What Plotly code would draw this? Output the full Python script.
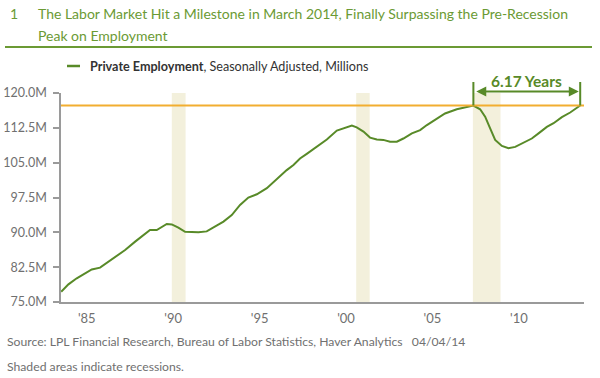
import plotly.graph_objects as go

# ---- data ----
years = [1984.10, 1984.52, 1985.00, 1985.38, 1985.87, 1986.35, 1986.83, 1987.32, 1987.80,
         1988.38, 1988.86, 1989.24, 1989.63, 1990.21, 1990.50, 1990.88, 1991.27, 1991.56,
         1992.04, 1992.52, 1993.00, 1993.49, 1993.97, 1994.45, 1994.93, 1995.42, 1996.00,
         1996.58, 1997.15, 1997.54, 1997.92, 1998.31, 1998.89, 1999.47, 2000.05, 2000.43,
         2000.92, 2001.20, 2001.59, 2001.97, 2002.36, 2002.74, 2003.13, 2003.52, 2003.90,
         2004.39, 2004.87, 2005.26, 2005.83, 2006.31, 2006.99, 2007.47, 2007.95, 2008.34,
         2008.63, 2008.92, 2009.21, 2009.60, 2009.98, 2010.37, 2010.85, 2011.33, 2011.72,
         2012.20, 2012.59, 2013.07, 2013.55, 2014.03, 2014.13]
employment = [77.2, 78.8, 80.1, 81.0, 82.0, 82.4, 83.6, 84.9, 86.2,
              88.0, 89.4, 90.5, 90.5, 91.8, 91.7, 91.0, 90.1, 90.1,
              90.0, 90.2, 91.2, 92.3, 93.7, 95.9, 97.5, 98.2, 99.5,
              101.5, 103.4, 104.5, 105.9, 106.9, 108.4, 110.0, 111.9, 112.4,
              113.0, 112.6, 111.7, 110.4, 110.0, 109.9, 109.5, 109.5, 110.2,
              111.3, 112.0, 113.1, 114.5, 115.6, 116.5, 116.9, 117.3, 116.5,
              114.9, 112.4, 109.9, 108.6, 108.1, 108.4, 109.3, 110.2, 111.3,
              112.7, 113.5, 114.8, 115.8, 117.2, 117.3]
pre_recession_peak = 117.3
peak_date = 2007.95
recovery_date = 2014.13
gap_label = "6.17 Years"

rec_start = [1990.50, 2001.17, 2007.92]
rec_end = [1991.30, 2001.95, 2009.52]

ytick_vals = [75.0, 82.5, 90.0, 97.5, 105.0, 112.5, 120.0]
ytick_text = [f"{v:.1f}M" for v in ytick_vals]
xtick_years = [1985, 1990, 1995, 2000, 2005, 2010]
xtick_text = ["'85", "'90", "'95", "'00", "'05", "'10"]

title_line1 = "The Labor Market Hit a Milestone in March 2014, Finally Surpassing the Pre-Recession"
title_line2 = "Peak on Employment"

# ---- styling ----
FONT = "Lato, Liberation Sans, sans-serif"
GREEN_LINE = "#588a28"
GREEN_TITLE = "#6b9a34"
ORANGE = "#f2ae30"
BAND = "#f3f0dc"
GRAY = "#707070"
AXIS = "#9a9a9a"

W, H = 600, 378
L, R, T, B = 61, 16, 93, 76
pw, ph = W - L - R, H - T - B
X0, X1 = 1984.09, 2014.35


def px(xp):
    return (xp - L) / pw


def py(yp):
    return (H - B - yp) / ph


fig = go.Figure()
fig.add_trace(go.Scatter(x=years, y=employment, mode="lines",
                         line=dict(color=GREEN_LINE, width=2),
                         name="Private Employment", showlegend=False, hoverinfo="skip"))

shapes = []
for s, e in zip(rec_start, rec_end):
    shapes.append(dict(type="rect", xref="x", yref="paper", x0=s, x1=e, y0=0, y1=1,
                       fillcolor=BAND, line=dict(width=0), layer="below"))
shapes.append(dict(type="line", xref="paper", yref="y", x0=0, x1=1,
                   y0=pre_recession_peak, y1=pre_recession_peak,
                   line=dict(color=ORANGE, width=2)))
# title rule
shapes.append(dict(type="line", xref="paper", yref="paper", x0=px(5), x1=px(592),
                   y0=py(47), y1=py(47), line=dict(color=GREEN_TITLE, width=2)))
# legend glyph
shapes.append(dict(type="line", xref="paper", yref="paper", x0=px(67), x1=px(80),
                   y0=py(66), y1=py(66), line=dict(color=GREEN_LINE, width=2.5)))

annotations = []
title_font = dict(family=FONT, size=14, color=GREEN_TITLE)
annotations.append(dict(xref="paper", yref="paper", x=px(8), y=py(14), xanchor="left", yanchor="middle",
                        text="1", showarrow=False, font=title_font))
annotations.append(dict(xref="paper", yref="paper", x=px(36), y=py(14), xanchor="left", yanchor="middle",
                        text=title_line1, showarrow=False, font=title_font))
annotations.append(dict(xref="paper", yref="paper", x=px(36), y=py(35), xanchor="left", yanchor="middle",
                        text=title_line2, showarrow=False, font=title_font))
annotations.append(dict(xref="paper", yref="paper", x=px(88), y=py(66), xanchor="left", yanchor="middle",
                        text="<b>Private Employment</b>, Seasonally Adjusted, Millions",
                        showarrow=False, font=dict(family=FONT, size=12.6, color="#333333")))
# vertical bars for the gap marker
for d in (peak_date, recovery_date):
    annotations.append(dict(xref="x", yref="y", x=d, y=pre_recession_peak, ax=0, ay=-25,
                            text="", showarrow=True, arrowhead=0, arrowwidth=2,
                            arrowcolor=GREEN_LINE))
# double-headed arrow
annotations.append(dict(xref="x", yref="paper", x=recovery_date - 0.08, y=py(91.5),
                        axref="x", ax=peak_date + 0.08, ayref="pixel", ay=0,
                        text="", showarrow=True, arrowhead=2, startarrowhead=2,
                        arrowside="end+start", arrowsize=1, arrowwidth=2,
                        arrowcolor=GREEN_LINE, standoff=0, startstandoff=0))
annotations.append(dict(xref="x", yref="paper", x=(peak_date + recovery_date) / 2, y=py(81),
                        xanchor="center", yanchor="middle", text="<b>" + gap_label + "</b>",
                        showarrow=False, font=dict(family=FONT, size=15.5, color=GREEN_LINE)))
# footer
foot_font = dict(family=FONT, size=12.2, color=GRAY)
annotations.append(dict(xref="paper", yref="paper", x=px(5), y=py(341), xanchor="left", yanchor="middle",
                        text="Source: LPL Financial Research, Bureau of Labor Statistics, Haver Analytics&nbsp;&nbsp;&nbsp;04/04/14",
                        showarrow=False, font=foot_font))
annotations.append(dict(xref="paper", yref="paper", x=px(5), y=py(366), xanchor="left", yanchor="middle",
                        text="Shaded areas indicate recessions.",
                        showarrow=False, font=foot_font))

fig.update_layout(
    width=W, height=H, autosize=False,
    margin=dict(l=L, r=R, t=T, b=B, pad=0),
    paper_bgcolor="white", plot_bgcolor="white",
    shapes=shapes, annotations=annotations,
    font=dict(family=FONT, size=13, color=GRAY),
    xaxis=dict(range=[X0, X1], showgrid=False, zeroline=False, automargin=False,
               showline=True, linecolor=AXIS, linewidth=1.5,
               tickvals=[y + 0.58 for y in xtick_years], ticktext=xtick_text,
               ticks="", ticklabelstandoff=4,
               tickfont=dict(family=FONT, size=13, color=GRAY)),
    yaxis=dict(range=[75, 120], showgrid=False, zeroline=False, automargin=False,
               showline=True, linecolor=AXIS, linewidth=1.5,
               tickvals=ytick_vals, ticktext=ytick_text,
               ticks="outside", ticklen=6, tickcolor=AXIS, tickwidth=1.5,
               ticklabelstandoff=4,
               tickfont=dict(family=FONT, size=12.5, color=GRAY)),
)

fig.write_html("out.html", config={"displayModeBar": False},
               post_script="document.body.style.margin='0';")
